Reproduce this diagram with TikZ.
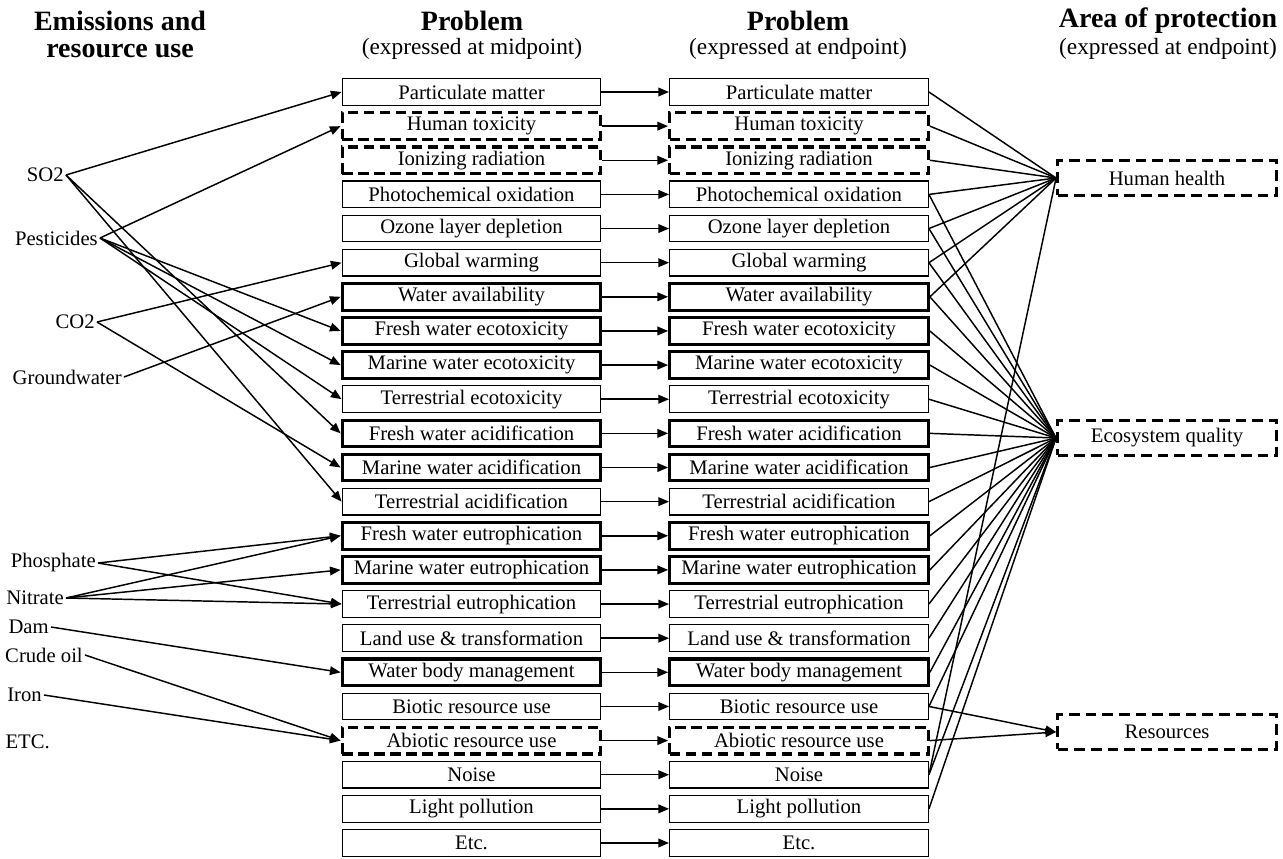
\documentclass[tikz,border=0pt]{standalone}
\usepackage{fontspec}
\setmainfont{Liberation Serif}
\usetikzlibrary{arrows.meta}
\begin{document}
\begin{tikzpicture}[x=0.75pt,y=-0.75pt,
  txt/.style={font=\fontsize{15.5}{17}\selectfont},
  box/.style={draw, txt, line width=0.9pt, minimum width=194pt, minimum height=20pt, inner sep=0pt},
  bt/.style={},
  bk/.style={line width=2.3pt},
  bd/.style={line width=2.4pt, dash pattern=on 8pt off 4pt},
  aop/.style={draw, txt, line width=2.4pt, dash pattern=on 8pt off 4.5pt, minimum width=164pt, minimum height=26pt, inner sep=0pt},
  lab/.style={txt, anchor=east, inner sep=1.5pt},
  conn/.style={line width=1.1pt},
  arr/.style={conn, -{Triangle[length=8pt,width=6.5pt]}},
  hd/.style={font=\fontsize{21}{24}\selectfont\bfseries, inner sep=0pt},
  sub/.style={font=\fontsize{17.5}{20}\selectfont, inner sep=0pt}
]
\useasboundingbox (0,0) rectangle (1283,858);

% headings
\node[hd] (h1a) at (120,21) {Emissions and};
\node[hd] (h1b) at (120,51) {resource use};
\node[hd] (h2) at (472,21) {Problem};
\node[sub] (h2s) at (472,49) {(expressed at midpoint)};
\node[hd] (h3) at (798,21) {Problem};
\node[sub] (h3s) at (798,49) {(expressed at endpoint)};
\node[hd] (h4) at (1168,21) {Area of protection};
\node[sub] (h4s) at (1168,49) {(expressed at endpoint)};

% problem boxes
\foreach \i/\t/\s in {
  1/Particulate matter/bt,
  2/Human toxicity/bd,
  3/Ionizing radiation/bd,
  4/Photochemical oxidation/bt,
  5/Ozone layer depletion/bt,
  6/Global warming/bt,
  7/Water availability/bk,
  8/Fresh water ecotoxicity/bk,
  9/Marine water ecotoxicity/bk,
  10/Terrestrial ecotoxicity/bt,
  11/Fresh water acidification/bk,
  12/Marine water acidification/bk,
  13/Terrestrial acidification/bt,
  14/Fresh water eutrophication/bk,
  15/Marine water eutrophication/bk,
  16/Terrestrial eutrophication/bt,
  17/Land use \& transformation/bt,
  18/Water body management/bk,
  19/Biotic resource use/bt,
  20/Abiotic resource use/bd,
  21/Noise/bt,
  22/Light pollution/bt,
  23/Etc./bt}{
  \pgfmathsetmacro\yy{92+(\i-1)*34.136}
  \node[box,\s] (m\i) at (471.5,\yy) {\t};
  \node[box,\s] (e\i) at (799,\yy) {\t};
  \draw[arr] (m\i.east) -- (e\i.west);
}

% areas of protection
\node[aop] (hh) at (1167,178) {Human health};
\node[aop] (eq) at (1167,438) {Ecosystem quality};
\node[aop] (res) at (1167,732) {Resources};

% emissions
\node[lab] (so2) at (66,175) {SO2};
\node[lab] (pest) at (100,238) {Pesticides};
\node[lab] (co2) at (97,322) {CO2};
\node[lab] (gw) at (124,377) {Groundwater};
\node[lab] (phos) at (98,563) {Phosphate};
\node[lab] (nitr) at (66,598) {Nitrate};
\node[lab] (dam) at (51,627) {Dam};
\node[lab] (crude) at (85,655) {Crude oil};
\node[lab] (iron) at (44,695) {Iron};
\node[lab] (etc) at (52,742) {ETC.};

\foreach \a/\b in {so2/1, so2/11, so2/13,
  pest/2, pest/8, pest/9, pest/10,
  co2/6, co2/12, gw/7,
  phos/14, phos/16, nitr/14, nitr/15, nitr/16,
  dam/18, crude/20, iron/20}{
  \draw[arr] (\a.east) -- (m\b.west);
}

% endpoint to areas of protection
\foreach \b in {1,2,3,4,5,6,7,21}{
  \draw[conn] (e\b.east) -- (hh.west);
}
\foreach \b in {4,5,6,7,8,9,10,11,12,13,14,15,16,17,18,19,21,22}{
  \draw[conn] (e\b.east) -- (eq.west);
}
\draw[arr] (e19.east) -- (res.west);
\draw[arr] (e20.east) -- (res.west);
\end{tikzpicture}
\end{document}
